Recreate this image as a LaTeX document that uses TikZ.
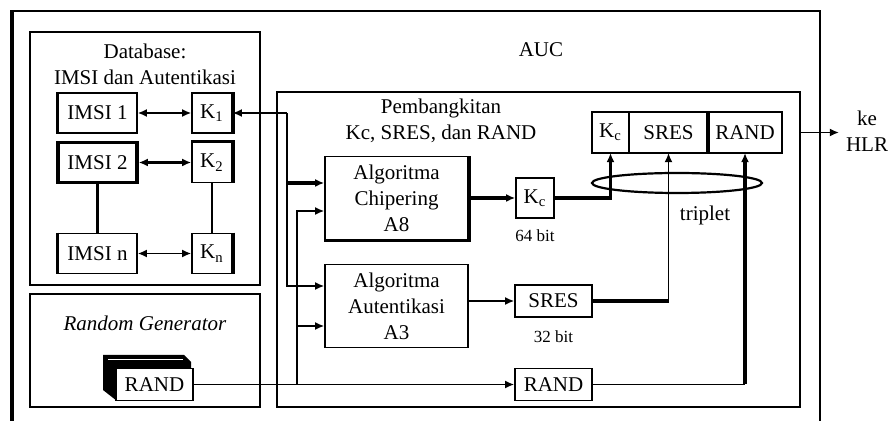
\documentclass[tikz,border=0pt]{standalone}
\usepackage{fontspec}
\setmainfont{Liberation Serif}
\usepackage{tikz}
\usetikzlibrary{arrows.meta,positioning,calc}
\tikzset{%
  box/.style={draw,line width=0.8pt,align=center,inner sep=0pt,fill=white},
  arrow/.style={-{Latex[length=1.6mm,width=1.4mm]}, line width=0.8pt},
  twoway/.style={{Latex[length=1.6mm,width=1.4mm]}-{Latex[length=1.6mm,width=1.4mm]}, line width=0.8pt}%
}

\begin{document}
\begin{tikzpicture}[
    x=0.5pt, y=-0.5pt,
    font=\fontsize{10.5}{13}\selectfont,
    frame/.style={
        draw,
        line width=0.8pt,
        inner sep=0pt
    },
    imsi/.style={
        box,
        minimum width=39.5pt,
        minimum height=20pt
    },
    key/.style={
        box,
        minimum width=20pt,
        minimum height=20pt
    },
    algo/.style={
        box,
        minimum width=71.5pt,
        minimum height=41.5pt
    },
    value/.style={
        box,
        minimum width=38.5pt,
        minimum height=16pt
    },
    bold/.style={line width=1.7pt},
    boldarrow/.style={arrow, line width=1.7pt},
    note/.style={font=\fontsize{8.5}{10}\selectfont}
]

\useasboundingbox (0,0) rectangle (889,421);

% AUC
\draw[frame] (12,421) -- (12,11) -- (820,11) -- (820,421);
\draw[bold] (12,421) -- (12,10.2);
\node (auc) at (541,50) {AUC};

% Database
\node[frame, minimum width=115pt, minimum height=126.5pt] (db) at (145,158.5) {};
\node[align=center] (dbtitle) at (145,64) {Database:\\IMSI dan Autentikasi};

\node[imsi] (imsi1) at (97.5,113) {IMSI 1};
\node[key] (k1) at (212,113) {K\textsubscript{1}};
\node[imsi, line width=1.7pt] (imsi2) at (97.5,162.5) {IMSI 2};
\node[key] (k2) at (212,162.5) {K\textsubscript{2}};
\node[imsi] (imsin) at (97.5,253.5) {IMSI n};
\node[key] (kn) at (212,253.5) {K\textsubscript{n}};

\draw[bold] (imsi1.north west) -- (imsi1.south west);
\draw[bold] (imsin.north west) -- (imsin.south west);
\draw[bold] (k1.north east) -- (k1.south east);
\draw[bold] (k2.north west) -- (k2.north east) -- (k2.south east);
\draw[bold] (kn.north east) -- (kn.south east);

\draw[twoway] (imsi1) -- (k1);
\draw[twoway, line width=1.7pt] (imsi2) -- (k2);
\draw[twoway] (imsin) -- (kn);
\draw[bold] (imsi2) -- (imsin);
\draw[line width=0.8pt] (k2) -- (kn);

% Random generator
\node[frame, minimum width=115pt, minimum height=56.5pt] (rg) at (145,350.5) {};
\node[font=\fontsize{10.5}{13}\selectfont\itshape] (rgtitle) at (145,323) {Random Generator};
\fill (103,355) -- (184,355) -- (191,362) -- (191,369) -- (117,369) -- (117,401) -- (103,390) -- cycle;
\draw[white, line width=0.6pt] (108,359.5) -- (183,359.5);
\node[value] (grand) at (154.5,384.5) {RAND};

% Pembangkitan
\node[frame, minimum width=261.5pt, minimum height=157.5pt] (pb) at (538.5,249.5) {};
\node[align=center] (pbtitle) at (441,121) {Pembangkitan\\Kc, SRES, dan RAND};

\node[algo] (a8) at (396.5,198) {Algoritma\\Chipering\\A8};
\draw[bold] (a8.south west) -- (a8.south east) -- (a8.north east);
\node[algo] (a3) at (396.5,306) {Algoritma\\Autentikasi\\A3};

\node[key, minimum width=19pt] (kc) at (535,198) {K\textsubscript{c}};
\node[note, below=2pt of kc] (kcbits) {64 bit};
\node[value] (sres) at (553.5,301) {SRES};
\node[note, below=3pt of sres] (sresbits) {32 bit};
\node[value] (rand) at (553.5,384.5) {RAND};

% triplet
\node[key, minimum width=18.5pt, minimum height=20.5pt, outer sep=0pt] (tkc) at (610.5,132.5) {K\textsubscript{c}};
\node[box, minimum width=39.5pt, minimum height=20.5pt, outer sep=0pt, right=0pt of tkc] (tsres) {SRES};
\node[box, minimum width=37pt, minimum height=20.5pt, outer sep=0pt, right=0pt of tsres] (trand) {RAND};
\draw[bold] (tsres.north east) -- (tsres.south east);
\draw[line width=1.1pt] (677,183) ellipse [x radius=42.5pt, y radius=5pt];
\node (trip) at (705,215) {triplet};
\node[align=center] (ke) at (867,131) {ke\\HLR};

% inputs to the algorithms
\coordinate (kbus) at (287,113);
\coordinate (rbus) at (297,384.5);
\coordinate (a8in1) at ([yshift=7.5pt]a8.west);
\coordinate (a8in2) at ([yshift=-6.5pt]a8.west);
\coordinate (a3in1) at ([yshift=10pt]a3.west);
\coordinate (a3in2) at ([yshift=-10pt]a3.west);

\draw[arrow] (kbus) -- (k1.east);
\draw[arrow] (kbus) |- (a3in1);
\draw[boldarrow] (kbus |- a8in1) -- (a8in1);
\draw[line width=0.8pt] (grand.east) -- (rbus);
\draw[arrow] (rbus) |- (a8in2);
\draw[arrow] (rbus |- a3in2) -- (a3in2);
\draw[arrow] (rbus) -- (rand.west);

% outputs to the triplet
\draw[boldarrow] (a8) -- (kc);
\draw[arrow] (a3.east |- sres) -- (sres.west);
\draw[boldarrow] (kc.east) -| (tkc.south);
\draw[bold] (sres.east) -- (sres.east -| tsres.south);
\draw[arrow] (sres.east -| tsres.south) -- (tsres.south);
\draw[line width=0.8pt] (rand.east) -- (rand.east -| trand.south);
\draw[boldarrow] (rand.east -| trand.south) -- (trand.south);
\draw[arrow] (pb.east |- trand) -- (ke.west |- trand);

\end{tikzpicture}
\end{document}
